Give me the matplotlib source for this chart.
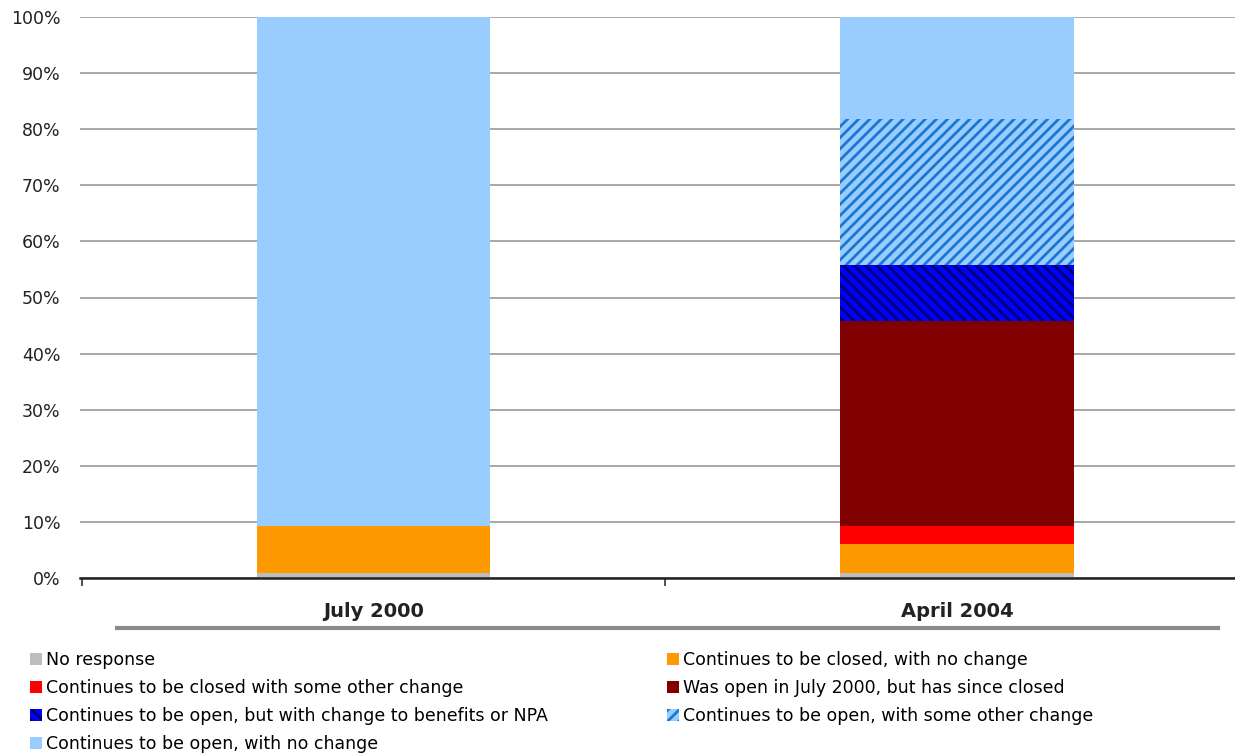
import matplotlib
matplotlib.use("Agg")
import matplotlib.pyplot as plt
from matplotlib.patches import Patch
from matplotlib.lines import Line2D
import numpy as np

categories = ["July 2000", "April 2004"]
series_names = [
    "No response",
    "Continues to be closed, with no change",
    "Continues to be closed with some other change",
    "Was open in July 2000, but has since closed",
    "Continues to be open, but with change to benefits or NPA",
    "Continues to be open, with some other change",
    "Continues to be open, with no change",
]
no_response = [0.9, 0.9]
closed_no_change = [8.4, 5.2]
closed_other_change = [0.0, 3.2]
was_open_now_closed = [0.0, 36.5]
open_change_benefits = [0.0, 10.0]
open_other_change = [0.0, 26.0]
open_no_change = [90.7, 18.2]

series_values = [no_response, closed_no_change, closed_other_change,
                 was_open_now_closed, open_change_benefits,
                 open_other_change, open_no_change]
face_colors = ["#bdbdbd", "#ff9900", "#ff0000", "#800000", "#0000ff", "#99ccff", "#99ccff"]
hatches = [None, None, None, None, "\\\\\\", "///", None]
hatch_colors = [None, None, None, None, "#000070", "#1a78d0", None]

plt.rcParams['font.family'] = ['DejaVu Sans']
plt.rcParams['hatch.linewidth'] = 2.0

fig = plt.figure(figsize=(12.35, 7.53), dpi=100)
ax = fig.add_axes([80/1235, 1-578/753, 1-80/1235, (578-17)/753])

x = np.arange(len(categories))
bottom = np.zeros(len(categories))
width = 0.4
for vals, fc, h, hc in zip(series_values, face_colors, hatches, hatch_colors):
    vals = np.array(vals, dtype=float)
    if h:
        ax.bar(x, vals, width, bottom=bottom, facecolor=fc, edgecolor=hc,
               hatch=h, linewidth=0, zorder=3)
    else:
        ax.bar(x, vals, width, bottom=bottom, color=fc, linewidth=0, zorder=3)
    bottom += vals

ax.set_xlim(-0.504, (1235-374)/583)
ax.set_ylim(0, 100)
ax.set_yticks(np.arange(0, 101, 10))
ax.set_yticklabels([f"{v}%" for v in range(0, 101, 10)], fontsize=12.5, color="#222222")
ax.yaxis.grid(True, color="#9a9a9a", linewidth=1.2, zorder=0)
ax.set_axisbelow(True)
ax.tick_params(axis='y', length=0, pad=14)

ax.set_xticks(x)
ax.set_xticklabels(categories, fontsize=14, fontweight='bold', color="#222222")
ax.set_xticks([-0.5, 0.5], minor=True)
ax.tick_params(axis='x', which='major', length=0, pad=17)
ax.tick_params(axis='x', which='minor', length=6, width=1.2, color="#333333", direction='out')

for s in ['top', 'right', 'left']:
    ax.spines[s].set_visible(False)
ax.spines['bottom'].set_color("#222222")
ax.spines['bottom'].set_linewidth(1.8)
ax.spines['bottom'].set_zorder(5)

# separator line under category labels
fig.add_artist(Line2D([117/1235, 1218/1235], [1-628/753, 1-628/753],
                      color="#8a8a8a", linewidth=3, transform=fig.transFigure))

def make_handle(i):
    if hatches[i]:
        return Patch(facecolor=face_colors[i], edgecolor=hatch_colors[i],
                     hatch=hatches[i], linewidth=0)
    return Patch(facecolor=face_colors[i], linewidth=0)

left_idx = [0, 2, 4, 6]
right_idx = [1, 3, 5]
leg_kw = dict(frameon=False, fontsize=12.5, handlelength=0.7, handleheight=0.7,
              handletextpad=0.25, labelspacing=0.57, borderpad=0, borderaxespad=0,
              loc='upper left')
leg1 = fig.legend([make_handle(i) for i in left_idx], [series_names[i] for i in left_idx],
                  bbox_to_anchor=(30/1235, 1-651/753), **leg_kw)
leg2 = fig.legend([make_handle(i) for i in right_idx], [series_names[i] for i in right_idx],
                  bbox_to_anchor=(667/1235, 1-651/753), **leg_kw)

fig.savefig("out.png", dpi=100)
